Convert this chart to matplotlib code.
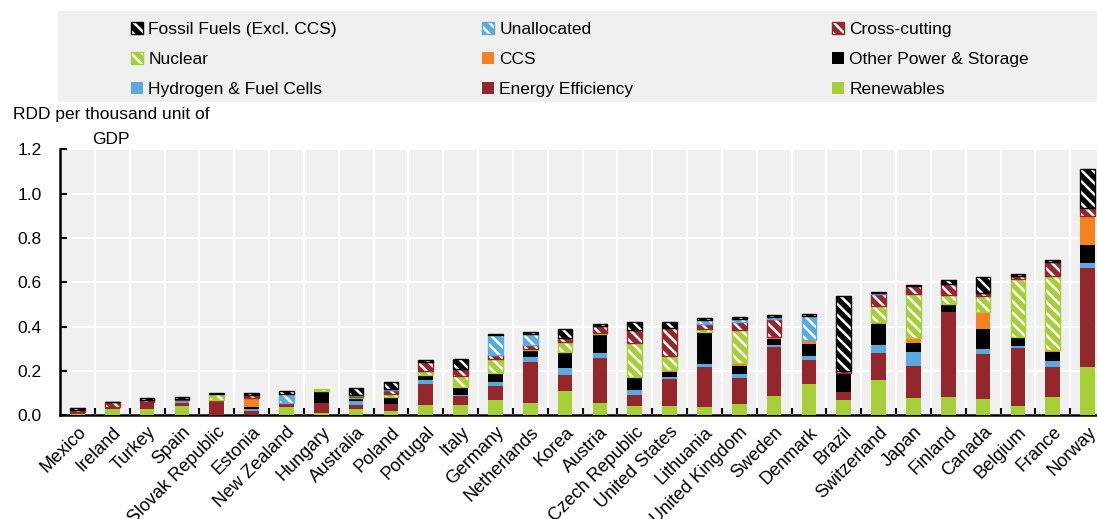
import numpy as np
import matplotlib.pyplot as plt
from matplotlib.patches import Patch, Rectangle

plt.rcParams['font.family'] = ['Liberation Sans', 'DejaVu Sans']
plt.rcParams['hatch.linewidth'] = 1.8

# --- data (RDD per thousand unit of GDP) ---
countries = ['Mexico', 'Ireland', 'Turkey', 'Spain', 'Slovak Republic', 'Estonia',
             'New Zealand', 'Hungary', 'Australia', 'Poland', 'Portugal', 'Italy',
             'Germany', 'Netherlands', 'Korea', 'Austria', 'Czech Republic',
             'United States', 'Lithuania', 'United Kingdom', 'Sweden', 'Denmark',
             'Brazil', 'Switzerland', 'Japan', 'Finland', 'Canada', 'Belgium',
             'France', 'Norway']

renewables = [0.006, 0.029, 0.030, 0.042, 0.002, 0.001, 0.039, 0.012, 0.030, 0.018,
              0.047, 0.048, 0.071, 0.054, 0.111, 0.054, 0.042, 0.044, 0.039, 0.050,
              0.087, 0.139, 0.069, 0.160, 0.078, 0.084, 0.072, 0.042, 0.083, 0.220]
efficiency = [0.003, 0.009, 0.024, 0.015, 0.068, 0.018, 0.018, 0.045, 0.015, 0.033,
              0.095, 0.038, 0.059, 0.187, 0.071, 0.203, 0.050, 0.119, 0.181, 0.119,
              0.223, 0.111, 0.038, 0.119, 0.145, 0.383, 0.205, 0.261, 0.133, 0.443]
hydrogen = [0.0, 0.0, 0.0, 0.008, 0.0, 0.009, 0.0, 0.0, 0.019, 0.0,
            0.018, 0.006, 0.020, 0.020, 0.033, 0.023, 0.023, 0.008, 0.011, 0.018,
            0.005, 0.018, 0.0, 0.039, 0.063, 0.0, 0.023, 0.011, 0.030, 0.023]
other_power = [0.007, 0.0, 0.008, 0.004, 0.0, 0.010, 0.0, 0.054, 0.009, 0.030,
               0.020, 0.032, 0.035, 0.027, 0.065, 0.087, 0.060, 0.023, 0.143, 0.036,
               0.030, 0.053, 0.083, 0.095, 0.039, 0.036, 0.090, 0.039, 0.038, 0.084]
ccs = [0.0, 0.0, 0.0, 0.0, 0.0, 0.042, 0.0, 0.0, 0.005, 0.0,
       0.0, 0.004, 0.004, 0.008, 0.004, 0.0, 0.0, 0.009, 0.0, 0.012,
       0.008, 0.018, 0.002, 0.009, 0.026, 0.0, 0.078, 0.0, 0.012, 0.128]
nuclear = [0.0, 0.0, 0.0, 0.0, 0.024, 0.0, 0.0, 0.007, 0.004, 0.013,
           0.018, 0.051, 0.065, 0.005, 0.045, 0.004, 0.151, 0.066, 0.017, 0.151,
           0.0, 0.0, 0.0, 0.071, 0.196, 0.041, 0.068, 0.262, 0.331, 0.0]
cross_cutting = [0.010, 0.020, 0.006, 0.004, 0.0, 0.010, 0.0, 0.0, 0.004, 0.020,
                 0.041, 0.029, 0.017, 0.017, 0.021, 0.033, 0.060, 0.125, 0.020, 0.036,
                 0.083, 0.0, 0.006, 0.053, 0.035, 0.050, 0.018, 0.012, 0.063, 0.035]
unallocated = [0.0, 0.0, 0.0, 0.0, 0.0, 0.0, 0.040, 0.0, 0.006, 0.006,
               0.0, 0.0, 0.090, 0.050, 0.0, 0.0, 0.0, 0.0, 0.021, 0.012,
               0.009, 0.107, 0.0, 0.004, 0.0, 0.0, 0.0, 0.0, 0.0, 0.0]
fossil = [0.009, 0.004, 0.008, 0.008, 0.006, 0.012, 0.013, 0.0, 0.030, 0.032,
          0.009, 0.048, 0.008, 0.006, 0.038, 0.008, 0.033, 0.027, 0.009, 0.010,
          0.009, 0.009, 0.338, 0.007, 0.008, 0.015, 0.072, 0.011, 0.012, 0.176]

GREEN = '#A6CE39'
RED = '#93272C'
BLUE = '#5AAADF'
ORANGE = '#F58220'
BLACK = '#000000'
BG = '#F0F0F0'

# stacking order, bottom to top: (label, values, colour, hatched)
series = [
    ('Renewables', renewables, GREEN, False),
    ('Energy Efficiency', efficiency, RED, False),
    ('Hydrogen & Fuel Cells', hydrogen, BLUE, False),
    ('Other Power & Storage', other_power, BLACK, False),
    ('CCS', ccs, ORANGE, False),
    ('Nuclear', nuclear, GREEN, True),
    ('Cross-cutting', cross_cutting, RED, True),
    ('Unallocated', unallocated, BLUE, True),
    ('Fossil Fuels (Excl. CCS)', fossil, BLACK, True),
]

HATCH = '\\\\\\'
W = 0.42

fig = plt.figure(figsize=(10.97, 5.19), dpi=100)
ax = fig.add_axes([0.0547, 0.1998, 0.9526, 0.5125])
ax.set_facecolor(BG)

x = np.arange(len(countries))
bottom = np.zeros(len(countries))
for label, vals, color, hatched in series:
    vals = np.array(vals)
    m = vals > 0
    if hatched:
        ax.bar(x[m], vals[m], W, bottom=bottom[m], color=color, edgecolor='white',
               hatch=HATCH, linewidth=0, zorder=3)
        ax.bar(x[m], vals[m], W, bottom=bottom[m], fill=False, edgecolor=color,
               linewidth=1, zorder=3)
    else:
        ax.bar(x[m], vals[m], W, bottom=bottom[m], color=color, linewidth=0, zorder=3)
    bottom += vals

ax.set_xlim(-0.5, len(countries) - 0.5)
ax.set_ylim(0, 1.2)
ax.set_yticks(np.arange(0, 1.21, 0.2))
ax.yaxis.set_major_formatter(plt.FormatStrFormatter('%.1f'))
ax.set_xticks(x)
ax.set_xticklabels(countries, rotation=45, ha='right', rotation_mode='anchor')
ax.set_xticks(np.arange(0.5, len(countries) - 1, 1), minor=True)

ax.tick_params(axis='x', which='major', length=0, pad=6, labelsize=13)
ax.tick_params(axis='x', which='minor', direction='in', length=5, width=1.5)
ax.tick_params(axis='y', direction='in', length=5, width=1.5, labelsize=12.5, pad=13)

ax.grid(True, which='minor', axis='x', color='white', linewidth=1.5)
ax.grid(True, which='major', axis='y', color='white', linewidth=1.5)
ax.set_axisbelow(True)

for s in ['top', 'right']:
    ax.spines[s].set_visible(False)
for s in ['left', 'bottom']:
    ax.spines[s].set_linewidth(1.8)

# unit label above the y axis, two centred lines
fig.text(111 / 1097, 1 - 115 / 519, 'RDD per thousand unit of', ha='center',
         va='center', fontsize=12.5)
fig.text(111 / 1097, 1 - 140 / 519, 'GDP', ha='center', va='center', fontsize=12.5)

# legend: grey band with three columns, reverse of stacking order, row-major
fig.patches.append(Rectangle((58 / 1097, 1 - 102 / 519), 1 - 58 / 1097, 91 / 519,
                             transform=fig.transFigure, facecolor=BG,
                             edgecolor='none', zorder=0))

handles = []
labels = []
for label, vals, color, hatched in series[::-1]:
    if hatched:
        h = (Patch(facecolor=color, edgecolor='white', hatch=HATCH, linewidth=0),
             Patch(facecolor='none', edgecolor=color, linewidth=1))
    else:
        h = Patch(facecolor=color, edgecolor='none')
    handles.append(h)
    labels.append(label)

col_x = [131, 482, 832]
for c in range(3):
    fig.legend(handles=handles[c::3], labels=labels[c::3], loc='upper left',
               bbox_to_anchor=(col_x[c] / 1097, 1 - 22 / 519),
               frameon=False, fontsize=12.5, borderpad=0, borderaxespad=0,
               handlelength=0.7, handleheight=0.7, handletextpad=0.3,
               labelspacing=0.85)

fig.savefig('out.png', dpi=100)
